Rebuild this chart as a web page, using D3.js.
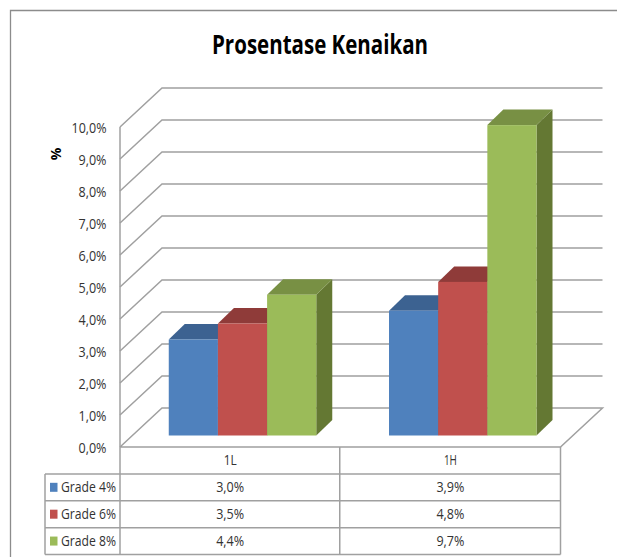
<!DOCTYPE html>
<html><head><meta charset="utf-8">
<script src="https://cdn.jsdelivr.net/npm/d3@7"></script>
<style>html,body{margin:0;padding:0;background:#fff}svg{display:block}
text{font-family:"Open Sans","Noto Sans",sans-serif;fill:#333}</style></head>
<body><svg id="c" width="617" height="557"></svg>
<script>
const title = "Prosentase Kenaikan";
const yTitle = "%";
const categories = ["1L", "1H"];
const seriesNames = ["Grade 4%", "Grade 6%", "Grade 8%"];
const grade4 = [3.0, 3.9];
const grade6 = [3.5, 4.8];
const grade8 = [4.4, 9.7];
const seriesValues = [grade4, grade6, grade8];
const yTicks = [0,1,2,3,4,5,6,7,8,9,10];
const faceColors = ["#4f81bd", "#c0504d", "#9bbb59"];
const topColors = ["#3c6291", "#8f3b39", "#789044"];
const sideColors = ["#2f4d73", "#722e2c", "#647833"];
const gridColor = "#a0a0a0";

const svg = d3.select("#c");
const fmt = v => v.toFixed(1).replace(".", ",") + "%";

// frame
const frame = svg.append("g").attr("fill","none").attr("stroke","#8c8c8c").attr("stroke-width",1.3);
frame.append("path").attr("d", d3.line()([[10.5,557],[10.5,10.5],[617,10.5]]));

svg.append("text").attr("x",320).attr("y",53.5).attr("text-anchor","middle")
  .attr("font-size",26.5).attr("font-weight",700).attr("textLength",216).attr("lengthAdjust","spacingAndGlyphs")
  .style("fill","#000").text(title);

// geometry
const x0 = 120, x1 = 560.5, depthX = 42, depthY = 39;
const y = d3.scaleLinear().domain([0,10]).range([447,127]);
const cellX = d3.scaleBand().domain(categories).range([x0,x1]);

// walls
const grid = svg.append("g").attr("fill","none").attr("stroke",gridColor).attr("stroke-width",1.5);
yTicks.forEach(t => {
  const v = y(t);
  const pts = t === 0
    ? [[x0,v],[x0+depthX,v-depthY],[x1+depthX,v-depthY],[x1,v],[x0,v]]
    : [[x0,v],[x0+depthX,v-depthY],[x1+depthX,v-depthY]];
  grid.append("path").attr("d", d3.line()(pts));
});
grid.append("path").attr("d", d3.line()([[x0,y(10)],[x0,y(0)]]));

// y axis labels
const axis = svg.append("g").attr("transform",`translate(${x0},0.5)`)
  .call(d3.axisLeft(y).tickValues(yTicks).tickSize(0).tickPadding(13.5).tickFormat(fmt));
axis.select(".domain").remove();
axis.selectAll("text").attr("font-size",14.5).attr("textLength",function(d){return d===10?35:28;})
  .attr("lengthAdjust","spacingAndGlyphs").style("font-family",'"Open Sans"').style("fill","#333");

svg.append("text").attr("transform","translate(61,154) rotate(-90)").attr("text-anchor","middle")
  .attr("font-size",14).attr("font-weight",700).style("fill","#000").text(yTitle);

// bars
const barFloorDy = 11.5, barFloorDx = barFloorDy*depthX/depthY;
const barDX = 16, barDY = 15.5;
const groupW = 147.5, cellW = cellX.bandwidth();
const inner = d3.scaleBand().domain(seriesNames).range([0,groupW]);
const bars = svg.append("g");
categories.forEach((c,ci) => {
  const gx = cellX(c) + barFloorDx + (cellW-groupW)/2;
  seriesNames.forEach((s,si) => {
    const v = seriesValues[si][ci];
    const l = gx + inner(s), r = l + inner.bandwidth();
    const b = y(0) - barFloorDy, t = y(v) - barFloorDy;
    const line = d3.line();
    bars.append("path").attr("fill",sideColors[si])
      .attr("d", line([[r,b],[r+barDX,b-barDY],[r+barDX,t-barDY],[r,t]])+"Z");
    bars.append("path").attr("fill",topColors[si])
      .attr("d", line([[l,t],[r,t],[r+barDX,t-barDY],[l+barDX,t-barDY]])+"Z");
    bars.append("rect").attr("x",l).attr("y",t).attr("width",r-l).attr("height",b-t).attr("fill",faceColors[si]);
  });
});

// data table
const tableLeft = 45;
const rowY = d3.scaleBand().domain(["head",...seriesNames]).range([447,554.5]);
const tbl = svg.append("g").attr("fill","none").attr("stroke",gridColor).attr("stroke-width",1.5);
rowY.domain().forEach((r,i) => {
  if(i>0) tbl.append("path").attr("d", d3.line()([[tableLeft,rowY(r)],[x1,rowY(r)]]));
});
tbl.append("path").attr("d", d3.line()([[tableLeft,554.5],[x1,554.5]]));
tbl.append("path").attr("d", d3.line()([[tableLeft,rowY(seriesNames[0])],[tableLeft,554.5]]));
[x0, cellX(categories[1])-0.5, x1].forEach(xx => tbl.append("path").attr("d", d3.line()([[xx,447],[xx,554.5]])));

const rh = rowY.bandwidth();
const cellText = (x,yy,t,w) => svg.append("text").attr("x",x).attr("y",yy).attr("text-anchor","middle")
  .attr("font-size",14.5).attr("textLength",w).attr("lengthAdjust","spacingAndGlyphs").text(t);
categories.forEach((c,ci) => {
  const cx = cellX(c)+cellW/2;
  cellText(cx, rowY("head")+rh/2+5, c, 13);
  seriesNames.forEach((s,si) => cellText(cx, rowY(s)+rh/2+5, fmt(seriesValues[si][ci]), 28));
});
seriesNames.forEach((s,si) => {
  const ry = rowY(s)+rh/2;
  svg.append("rect").attr("x",50).attr("y",ry-4.5).attr("width",7.5).attr("height",9).attr("fill",faceColors[si]);
  svg.append("text").attr("x",61).attr("y",ry+5).attr("font-size",14.5)
    .attr("textLength",55).attr("lengthAdjust","spacingAndGlyphs").text(s);
});
</script></body></html>
